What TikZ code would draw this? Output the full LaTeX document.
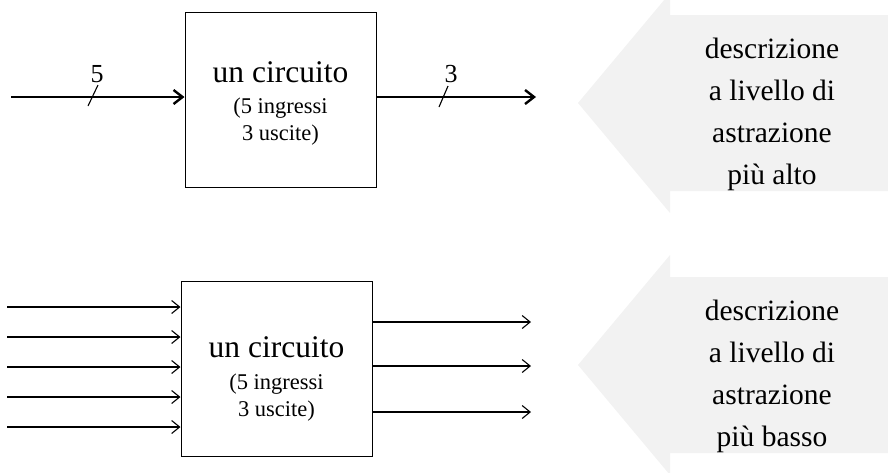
\documentclass[tikz,border=0pt]{standalone}
\usepackage{fontspec}
\setmainfont{Liberation Serif}
\usetikzlibrary{arrows.meta}
\begin{document}
\begin{tikzpicture}[x=1pt,y=-1pt,
  box/.style={draw,line width=1pt,minimum width=191pt,minimum height=175pt,inner sep=0pt},
  big/.style={font=\fontsize{31.5}{36}\selectfont,anchor=base,inner sep=0pt},
  small/.style={font=\fontsize{22.5}{26}\selectfont,anchor=base,inner sep=0pt},
  lbl/.style={font=\fontsize{26}{30}\selectfont,anchor=base,inner sep=0pt},
  grey/.style={font=\fontsize{29.5}{42}\selectfont,anchor=base,inner sep=0pt},
  thick bus/.style={line width=2.6pt,-{Straight Barb[length=9pt,width=14pt,line width=2.4pt]}},
  thin wire/.style={line width=1.1pt,-{Straight Barb[length=8pt,width=13pt,line width=1.1pt]}},
  greyarrow/.style={fill=black!5,draw=none}
]
\useasboundingbox (0,0) rectangle (888,472);
% grey arrows
\fill[greyarrow] (888,15) -- (670,15) -- (670,-7) -- (578,103) -- (670,213) -- (670,191) -- (888,191) -- cycle;
\fill[greyarrow] (888,277) -- (670,277) -- (670,255) -- (578,365) -- (670,475) -- (670,453) -- (888,453) -- cycle;
\node[grey] (g1) at (772,58) {descrizione};
\node[grey] (g2) at (772,100) {a livello di};
\node[grey] (g3) at (772,142) {astrazione};
\node[grey] (g4) at (772,184) {più alto};
\node[grey] (h1) at (772,320) {descrizione};
\node[grey] (h2) at (772,362) {a livello di};
\node[grey] (h3) at (772,404) {astrazione};
\node[grey] (h4) at (772,446) {più basso};
% top box
\node[box] (A) at (280.5,99.5) {};
\node[big] (A1) at (280.5,82) {un circuito};
\node[small] (A2) at (280.5,113) {(5 ingressi};
\node[small] (A3) at (280.5,140) {3 uscite)};
\coordinate (ain) at (11,97);
\coordinate (aout) at (536,97);
\draw[thick bus] (ain) -- (A.west |- ain);
\draw[thick bus] (A.east |- aout) -- (aout);
\coordinate (s1a) at (98,85); \coordinate (s1b) at (88,106);
\coordinate (s2a) at (448,86); \coordinate (s2b) at (439,107);
\draw[line width=1.1pt] (s1a) -- (s1b);
\draw[line width=1.1pt] (s2a) -- (s2b);
\node[lbl] (n5) at (97,82) {5};
\node[lbl] (n3) at (451,82) {3};
% bottom box
\node[box] (B) at (276.5,368.5) {};
\node[big] (B1) at (276.5,357) {un circuito};
\node[small] (B2) at (276.5,389) {(5 ingressi};
\node[small] (B3) at (276.5,416) {3 uscite)};
\foreach \y [count=\i] in {307,337,367,397,427} {
  \coordinate (bi\i) at (7,\y);
  \draw[thin wire] (bi\i) -- (B.west |- bi\i);
}
\foreach \y [count=\i] in {322,366,412} {
  \coordinate (bo\i) at (531,\y);
  \draw[thin wire] (B.east |- bo\i) -- (bo\i);
}
\end{tikzpicture}
\end{document}
